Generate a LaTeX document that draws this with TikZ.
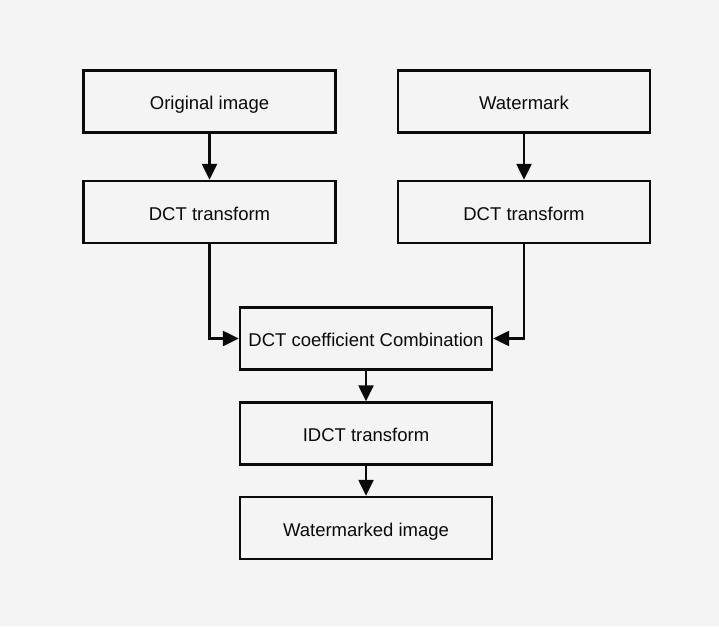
\documentclass[tikz,border=0pt]{standalone}
\usepackage{fontspec}
\setmainfont{Liberation Sans}
\usetikzlibrary{arrows.meta}
\definecolor{bg}{HTML}{F4F4F4}
\definecolor{ink}{HTML}{0A0A0A}
\newcommand{\boxtext}[1]{\raisebox{-8pt}[0pt][0pt]{#1}}
\begin{document}
\begin{tikzpicture}[x=1pt,y=-1pt,
  box/.style={draw=ink,line width=2.4pt,fill=bg,minimum width=252pt,minimum height=62pt,inner sep=0pt,text=ink,font=\fontsize{18.5}{21}\selectfont},
  conn/.style={draw=ink,line width=2.4pt,-{Triangle[length=16pt,width=15pt]}}]
\fill[bg] (0,0) rectangle (719,626);
\useasboundingbox (0,0) rectangle (719,626);
\node[box] (orig) at (209.5,101.5) {\boxtext{Original image}};
\node[box] (dctl) at (209.5,212) {\boxtext{DCT transform}};
\node[box] (wm) at (524,101.5) {\boxtext{Watermark}};
\node[box] (dctr) at (524,212) {\boxtext{DCT transform}};
\node[box] (comb) at (366,338.5) {\boxtext{DCT coefficient Combination}};
\node[box] (idct) at (366,433.5) {\boxtext{IDCT transform}};
\node[box] (out) at (366,528) {\boxtext{Watermarked image}};
\draw[conn] (orig) -- (dctl);
\draw[conn] (wm) -- (dctr);
\draw[conn] (dctl.south) |- (comb.west);
\draw[conn] (dctr.south) |- (comb.east);
\draw[conn] (comb) -- (idct);
\draw[conn] (idct) -- (out);
\end{tikzpicture}
\end{document}
